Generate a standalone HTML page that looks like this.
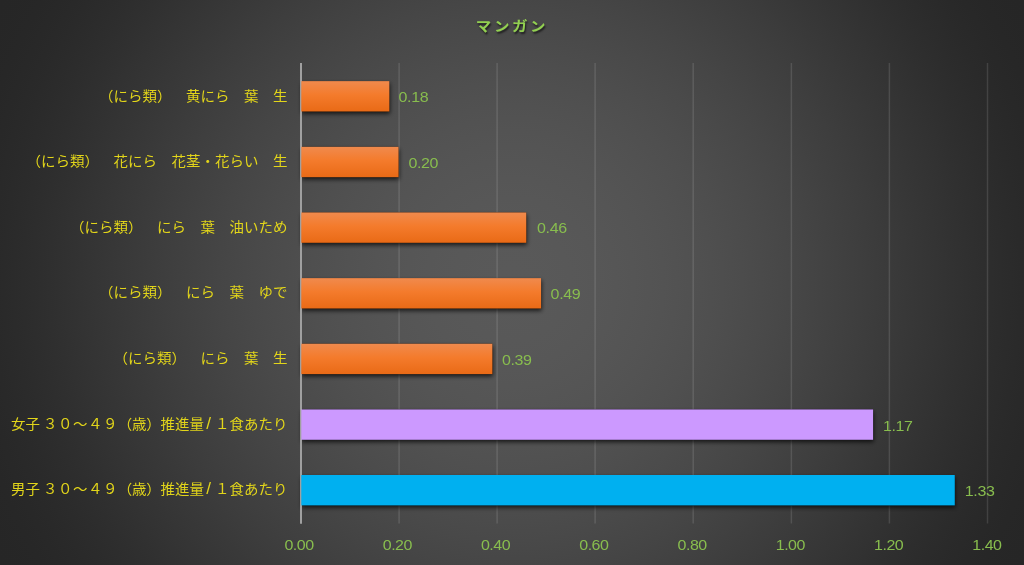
<!DOCTYPE html>
<html lang="ja"><head><meta charset="utf-8"><title>マンガン</title>
<style>
html,body{margin:0;padding:0;background:#262626;}
body{width:1024px;height:565px;overflow:hidden;}
#chart{width:1024px;height:565px;overflow:hidden;position:relative;
 background:radial-gradient(circle farthest-corner at 50% 50%, rgb(89.0,89.0,89.0) 0.000%, rgb(88.9,88.9,88.9) 3.125%, rgb(88.6,88.6,88.6) 6.250%, rgb(88.1,88.1,88.1) 9.375%, rgb(87.5,87.5,87.5) 12.500%, rgb(86.7,86.7,86.7) 15.625%, rgb(85.7,85.7,85.7) 18.750%, rgb(84.6,84.6,84.6) 21.875%, rgb(83.4,83.4,83.4) 25.000%, rgb(82.0,82.0,82.0) 28.125%, rgb(80.5,80.5,80.5) 31.250%, rgb(78.9,78.9,78.9) 34.375%, rgb(77.1,77.1,77.1) 37.500%, rgb(75.2,75.2,75.2) 40.625%, rgb(73.3,73.3,73.3) 43.750%, rgb(71.2,71.2,71.2) 46.875%, rgb(69.1,69.1,69.1) 50.000%, rgb(66.8,66.8,66.8) 53.125%, rgb(64.5,64.5,64.5) 56.250%, rgb(62.2,62.2,62.2) 59.375%, rgb(59.8,59.8,59.8) 62.500%, rgb(57.3,57.3,57.3) 65.625%, rgb(54.9,54.9,54.9) 68.750%, rgb(52.5,52.5,52.5) 71.875%, rgb(50.1,50.1,50.1) 75.000%, rgb(47.7,47.7,47.7) 78.125%, rgb(45.5,45.5,45.5) 81.250%, rgb(43.5,43.5,43.5) 84.375%, rgb(41.7,41.7,41.7) 87.500%, rgb(40.2,40.2,40.2) 90.625%, rgb(39.0,39.0,39.0) 93.750%, rgb(38.3,38.3,38.3) 96.875%, rgb(38.0,38.0,38.0) 100.000%);
 font-family:"Liberation Sans","Noto Sans CJK JP",sans-serif;}
.abs{position:absolute;}
.title{transform:scaleY(.87);transform-origin:50% 46%;left:0;width:1024px;top:14px;height:26px;line-height:26px;text-align:center;color:#92d050;font-weight:bold;font-size:15.5px;letter-spacing:2.6px;text-shadow:1px 1.5px 2px rgba(0,0,0,.6);}
.cat{transform:scaleY(.96);transform-origin:0 50%;text-spacing-trim:space-all;left:0;width:287.4px;text-align:right;color:#e2d51a;font-size:14.5px;height:30px;line-height:30px;white-space:pre;}
.val{transform:scaleY(.955);transform-origin:0 68%;color:#88bd4e;font-size:16px;letter-spacing:-.35px;height:30px;line-height:30px;white-space:pre;}
.tick{transform:scaleY(.955);transform-origin:0 75%;color:#88bd4e;font-size:16px;letter-spacing:-.5px;text-indent:-.5px;height:20px;line-height:20px;width:60px;text-align:center;}
</style></head><body>
<div id="chart">
<div class="abs title">マンガン</div>
<svg class="abs" style="left:0;top:0" width="1024" height="565" viewBox="0 0 1024 565">
<defs><linearGradient id="og" x1="0" y1="0" x2="0" y2="1"><stop offset="0" stop-color="#f08a4d"/><stop offset=".45" stop-color="#f47b2c"/><stop offset="1" stop-color="#e96a16"/></linearGradient>
<filter id="sh" x="-5%" y="-40%" width="115%" height="200%"><feDropShadow dx=".5" dy="2.3" stdDeviation="2.3" flood-color="#000" flood-opacity=".72"/></filter></defs>
<line x1="399.1" x2="399.1" y1="63" y2="523.5" stroke="#f2f2f2" stroke-opacity=".13" stroke-width="1.5"/>
<line x1="497.1" x2="497.1" y1="63" y2="523.5" stroke="#f2f2f2" stroke-opacity=".13" stroke-width="1.5"/>
<line x1="595.1" x2="595.1" y1="63" y2="523.5" stroke="#f2f2f2" stroke-opacity=".13" stroke-width="1.5"/>
<line x1="693.2" x2="693.2" y1="63" y2="523.5" stroke="#f2f2f2" stroke-opacity=".13" stroke-width="1.5"/>
<line x1="791.4" x2="791.4" y1="63" y2="523.5" stroke="#f2f2f2" stroke-opacity=".13" stroke-width="1.5"/>
<line x1="889.4" x2="889.4" y1="63" y2="523.5" stroke="#f2f2f2" stroke-opacity=".13" stroke-width="1.5"/>
<line x1="987.5" x2="987.5" y1="63" y2="523.5" stroke="#f2f2f2" stroke-opacity=".13" stroke-width="1.5"/>
<rect x="301.3" y="81.1" width="88.1" height="30.4" fill="#000" filter="url(#sh)"/>
<rect x="301.3" y="146.8" width="97.3" height="30.4" fill="#000" filter="url(#sh)"/>
<rect x="301.3" y="212.4" width="225.0" height="30.4" fill="#000" filter="url(#sh)"/>
<rect x="301.3" y="278.1" width="239.8" height="30.4" fill="#000" filter="url(#sh)"/>
<rect x="301.3" y="343.7" width="191.1" height="30.4" fill="#000" filter="url(#sh)"/>
<rect x="301.3" y="409.4" width="571.8" height="30.4" fill="#000" filter="url(#sh)"/>
<rect x="301.3" y="475.0" width="653.5" height="30.4" fill="#000" filter="url(#sh)"/>
<line x1="301" x2="301" y1="63" y2="523.7" stroke="#a0a0a0" stroke-width="2"/>
<rect x="301.3" y="81.1" width="88.1" height="30.4" fill="url(#og)"/>
<rect x="301.3" y="146.8" width="97.3" height="30.4" fill="url(#og)"/>
<rect x="301.3" y="212.4" width="225.0" height="30.4" fill="url(#og)"/>
<rect x="301.3" y="278.1" width="239.8" height="30.4" fill="url(#og)"/>
<rect x="301.3" y="343.7" width="191.1" height="30.4" fill="url(#og)"/>
<rect x="301.3" y="409.4" width="571.8" height="30.4" fill="#cc99ff"/>
<rect x="301.3" y="475.0" width="653.5" height="30.4" fill="#00b0f0"/>
</svg>
<div class="abs cat" style="top:80.5px">（にら類）　黄にら　葉　生</div>
<div class="abs val" style="top:82.3px;left:398.5px">0.18</div>
<div class="abs cat" style="top:146.1px">（にら類）　花にら　花茎・花らい　生</div>
<div class="abs val" style="top:147.9px;left:408.4px">0.20</div>
<div class="abs cat" style="top:211.8px">（にら類）　にら　葉　油いため</div>
<div class="abs val" style="top:212.6px;left:537.0px">0.46</div>
<div class="abs cat" style="top:277.4px">（にら類）　にら　葉　ゆで</div>
<div class="abs val" style="top:279.2px;left:550.6px">0.49</div>
<div class="abs cat" style="top:343.1px">（にら類）　にら　葉　生</div>
<div class="abs val" style="top:344.9px;left:501.9px">0.39</div>
<div class="abs cat" style="top:408.8px">女子<span style="margin-left:-.9px"> </span><span style="letter-spacing:.45px">３０～４９</span><span style="letter-spacing:-.3px">（歳）</span>推進量<span style="margin-left:2.2px;font-size:17px;line-height:1">/</span> １食あたり</div>
<div class="abs val" style="top:410.6px;left:882.9px">1.17</div>
<div class="abs cat" style="top:474.4px">男子<span style="margin-left:-.9px"> </span><span style="letter-spacing:.45px">３０～４９</span><span style="letter-spacing:-.3px">（歳）</span>推進量<span style="margin-left:2.2px;font-size:17px;line-height:1">/</span> １食あたり</div>
<div class="abs val" style="top:476.2px;left:964.8px">1.33</div>
<div class="abs tick" style="top:534.5px;left:269.3px">0.00</div>
<div class="abs tick" style="top:534.5px;left:367.6px">0.20</div>
<div class="abs tick" style="top:534.5px;left:465.8px">0.40</div>
<div class="abs tick" style="top:534.5px;left:564.1px">0.60</div>
<div class="abs tick" style="top:534.5px;left:662.4px">0.80</div>
<div class="abs tick" style="top:534.5px;left:760.6px">1.00</div>
<div class="abs tick" style="top:534.5px;left:858.9px">1.20</div>
<div class="abs tick" style="top:534.5px;left:957.2px">1.40</div>
</div>
</body></html>
